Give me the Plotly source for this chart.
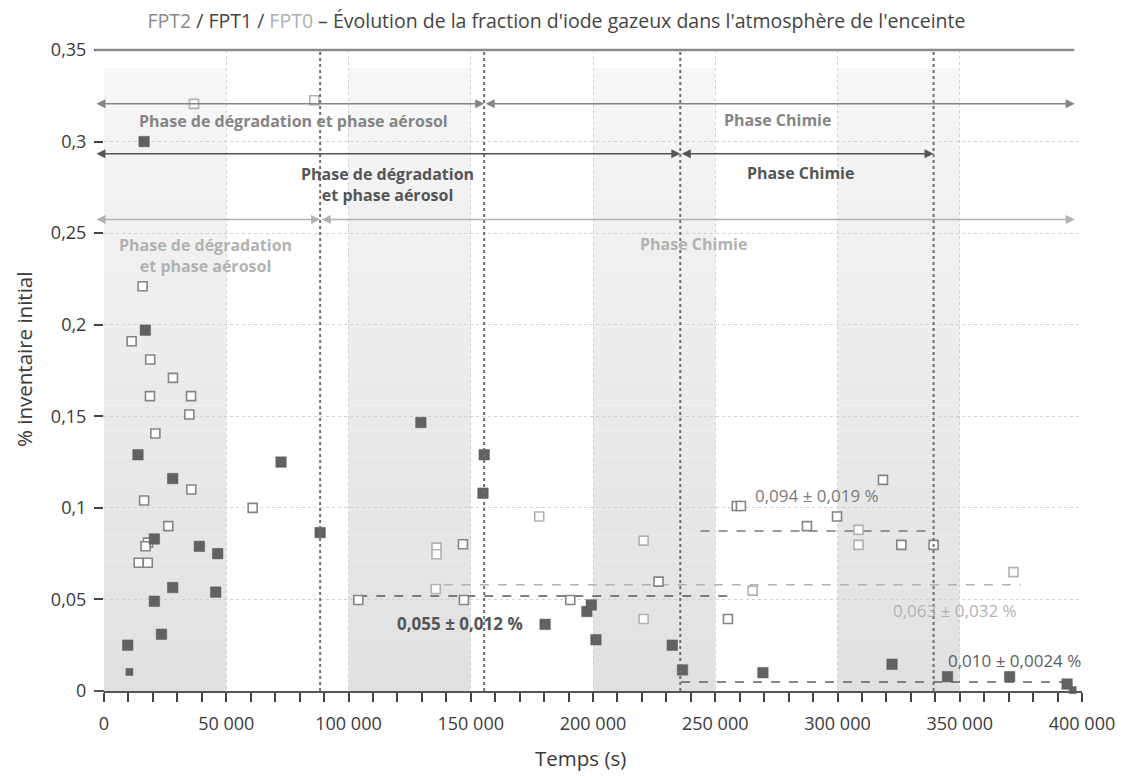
import plotly.graph_objects as go

# ---------------- data ----------------
# FPT1 : filled dark squares (time in s, % of initial inventory)
fpt1_time = [16400, 16900, 13900, 72400, 28100, 88400, 20600, 39000, 46500, 28100,
             45700, 20600, 23500, 9700, 129600, 155500, 155000, 197500, 199300,
             180400, 201200, 232400, 236600, 269500, 322300, 345000, 370400, 393900]
fpt1_value = [0.300, 0.197, 0.129, 0.125, 0.116, 0.0865, 0.083, 0.079, 0.075, 0.0565,
              0.054, 0.049, 0.031, 0.025, 0.1466, 0.129, 0.108, 0.0434, 0.047,
              0.0364, 0.028, 0.025, 0.0115, 0.010, 0.0146, 0.0078, 0.0078, 0.0038]
# FPT1 : the two smaller filled squares
fpt1_small_time = [10400, 396200]
fpt1_small_value = [0.0104, 0.0005]

# FPT2 : open mid-grey squares
fpt2_time = [15800, 11300, 18900, 28200, 18800, 35600, 34900, 21000, 35700, 16400,
             60800, 26300, 18000, 17000, 14200, 17900, 104000, 146800, 147200,
             190700, 226800, 255200, 258800, 260500, 287500, 299800, 318600,
             326100, 339300]
fpt2_value = [0.221, 0.191, 0.181, 0.171, 0.161, 0.161, 0.151, 0.1406, 0.110, 0.104,
              0.100, 0.090, 0.081, 0.079, 0.070, 0.070, 0.0497, 0.0801, 0.0497,
              0.0497, 0.0597, 0.0393, 0.101, 0.101, 0.090, 0.0953, 0.1153,
              0.0798, 0.0798]

# FPT0 : open light-grey squares
fpt0_time = [36800, 86000, 136000, 136000, 135700, 178000, 220700, 220700, 265300,
             308600, 308600, 372000]
fpt0_value = [0.3206, 0.3226, 0.0783, 0.0747, 0.0557, 0.0953, 0.0821, 0.0393, 0.0548,
              0.088, 0.0798, 0.0649]

# mean lines (chemistry phase averages)
mean_labels = ["0,055 ± 0,012 %", "0,063 ± 0,032 %", "0,094 ± 0,019 %", "0,010 ± 0,0024 %"]
mean_start = [104000, 139000, 244000, 236000]
mean_end = [255000, 375000, 339000, 396000]
mean_value = [0.0519, 0.058, 0.0873, 0.0049]
mean_label_x = [145700, 347900, 291700, 372400]
mean_label_y = [0.0366, 0.0437, 0.107, 0.0164]

# phase boundaries (s)
boundaries = [88400, 155500, 235700, 339300]

# phase arrows : start, end, level
arrow_start = [-3700, 155500, -3700, 235700, -3700, 88400]
arrow_end = [155500, 397000, 235700, 339300, 88400, 397000]
arrow_level = [0.3206, 0.3206, 0.2934, 0.2934, 0.2574, 0.2574]
arrow_test = ["FPT2", "FPT2", "FPT1", "FPT1", "FPT0", "FPT0"]

phase_text = ["Phase de dégradation et phase aérosol", "Phase Chimie",
              "Phase de dégradation<br>et phase aérosol", "Phase Chimie",
              "Phase de dégradation<br>et phase aérosol", "Phase Chimie"]
phase_x = [77400, 275400, 116000, 284800, 41500, 241000]
phase_y = [0.311, 0.3116, 0.2765, 0.2827, 0.238, 0.244]

# shaded bands (every other 50 000 s)
band_start = [0, 100000, 200000, 300000]
band_end = [50000, 150000, 250000, 350000]
band_top = 0.34

x_ticks = [0, 50000, 100000, 150000, 200000, 250000, 300000, 350000, 400000]
y_ticks = [0, 0.05, 0.1, 0.15, 0.2, 0.25, 0.3, 0.35]

x_title = "Temps (s)"
y_title = "% inventaire initial"

# ---------------- styles ----------------
FONT = "Open Sans"
col = {"FPT2": "#858585", "FPT1": "#555555", "FPT0": "#b2b2b2"}
mean_col = ["#555555", "#b2b2b2", "#7a7a7a", "#606060"]
mean_bold = [True, False, False, False]

fig = go.Figure()

# gradient bands
shapes = []
n = 24
for b0, b1 in zip(band_start, band_end):
    for i in range(n):
        y0 = band_top * i / n
        y1 = band_top * (i + 1) / n
        t = i / (n - 1)
        g = int(round(225 + (246 - 225) * t))
        shapes.append(dict(type="rect", xref="x", yref="y", x0=b0, x1=b1, y0=y0, y1=y1,
                           fillcolor=f"rgb({g},{g},{g})", line=dict(width=0), layer="below"))

# phase boundaries (dark dotted)
for b in boundaries:
    shapes.append(dict(type="line", xref="x", yref="y", x0=b, x1=b, y0=0, y1=0.35,
                       line=dict(color="#6e6e6e", width=2, dash="dot"), layer="above"))

# top solid line at 0.35 (extends slightly to the left)
shapes.append(dict(type="line", xref="paper", yref="paper", x0=-0.0092, x1=0.992, y0=1, y1=1,
                   line=dict(color="#8a8a8a", width=2.5)))
# x axis extension on the left
shapes.append(dict(type="line", xref="paper", yref="paper", x0=-0.010, x1=0, y0=0, y1=0,
                   line=dict(color="#555555", width=2)))

# mean dashed lines
for xs, xe, v, c in zip(mean_start, mean_end, mean_value, mean_col):
    fig.add_trace(go.Scatter(x=[xs, xe], y=[v, v], mode="lines",
                             line=dict(color=c, width=1.5, dash="dash"),
                             hoverinfo="skip", showlegend=False))

# data series
fig.add_trace(go.Scatter(x=fpt0_time, y=fpt0_value, mode="markers", name="FPT0",
                         marker=dict(symbol="square", size=9, color="white",
                                     line=dict(color=col["FPT0"], width=1.6)),
                         cliponaxis=False))
fig.add_trace(go.Scatter(x=fpt2_time, y=fpt2_value, mode="markers", name="FPT2",
                         marker=dict(symbol="square", size=9, color="white",
                                     line=dict(color=col["FPT2"], width=1.6)),
                         cliponaxis=False))
fig.add_trace(go.Scatter(x=fpt1_time, y=fpt1_value, mode="markers", name="FPT1",
                         marker=dict(symbol="square", size=10.5, color="#626262",
                                     line=dict(color="#5a5a5a", width=0.5)),
                         cliponaxis=False))
fig.add_trace(go.Scatter(x=fpt1_small_time, y=fpt1_small_value, mode="markers", name="FPT1",
                         marker=dict(symbol="square", size=7, color="#626262",
                                     line=dict(color="#5a5a5a", width=0.5)),
                         cliponaxis=False))

annotations = []
# arrows
for xs, xe, lv, tst in zip(arrow_start, arrow_end, arrow_level, arrow_test):
    annotations.append(dict(x=xe, y=lv, ax=xs, ay=lv, xref="x", yref="y", axref="x", ayref="y",
                            text="", showarrow=True, arrowside="end+start", arrowhead=2,
                            arrowsize=1.2, arrowwidth=1.5, arrowcolor=col[tst],
                            standoff=0, startstandoff=0))
# phase labels
for txt, px, py, tst in zip(phase_text, phase_x, phase_y, arrow_test):
    annotations.append(dict(x=px, y=py, xref="x", yref="y", text=f"<b>{txt}</b>",
                            showarrow=False, font=dict(family=FONT, size=16, color=col[tst]),
                            align="center"))
# mean labels
for txt, px, py, c, b in zip(mean_labels, mean_label_x, mean_label_y, mean_col, mean_bold):
    annotations.append(dict(x=px, y=py, xref="x", yref="y",
                            text=(f"<b>{txt}</b>" if b else txt), showarrow=False,
                            font=dict(family=FONT, size=17, color=c)))

# axis titles (placed as in the reference)
annotations.append(dict(text=x_title, xref="paper", yref="paper", x=(580 - 104) / 978,
                        y=-(758 - 691) / 641, xanchor="center", yanchor="middle",
                        showarrow=False, font=dict(family=FONT, size=20.5, color="#3a3a3a")))
annotations.append(dict(text=y_title, xref="paper", yref="paper", x=-(104 - 24) / 978,
                        y=(691 - 360) / 641, xanchor="center", yanchor="middle", textangle=-90,
                        showarrow=False, font=dict(family=FONT, size=20.5, color="#3a3a3a")))

title_text = ('<span style="color:#8a8a8a">FPT2</span> / FPT1 / '
              '<span style="color:#b0b0b0">FPT0</span> – Évolution de la fraction '
              "d'iode gazeux dans l'atmosphère de l'enceinte")

fig.update_layout(
    width=1123, height=776,
    margin=dict(l=104, r=41, t=50, b=85, autoexpand=False),
    paper_bgcolor="white", plot_bgcolor="white",
    separators=", ",
    showlegend=False,
    font=dict(family=FONT, color="#3a3a3a", size=17),
    title=dict(text=title_text, x=0.4955, xanchor="center", y=1 - 21 / 776, yanchor="middle",
               yref="container", font=dict(family=FONT, size=19.5, color="#444444")),
    shapes=shapes,
    annotations=annotations,
    xaxis=dict(range=[0, 400000], tickvals=x_ticks, tickformat=",d", automargin=False,
               showgrid=True, gridcolor="#d2d2d2", griddash="dot", gridwidth=1,
               zeroline=False, showline=True, linecolor="#555555", linewidth=2,
               ticks="outside", ticklen=9, tickwidth=1.5, tickcolor="#444444",
               minor=dict(dtick=10000, ticks="outside", ticklen=9, tickwidth=1.5,
                          tickcolor="#444444", showgrid=False),
               tickfont=dict(family=FONT, size=18, color="#3a3a3a"),
               ticklabelstandoff=6),
    yaxis=dict(range=[0, 0.35], tickvals=y_ticks, automargin=False,
               showgrid=True, gridcolor="#d2d2d2", griddash="dot", gridwidth=1,
               zeroline=False, showline=False,
               ticks="outside", ticklen=9, tickwidth=1.5, tickcolor="#444444",
               tickfont=dict(family=FONT, size=18, color="#3a3a3a"),
               ticklabelstandoff=4),
)

fig.write_html("out.html", config={"displayModeBar": False},
               post_script="document.body.style.margin='0';document.body.style.padding='0';")
